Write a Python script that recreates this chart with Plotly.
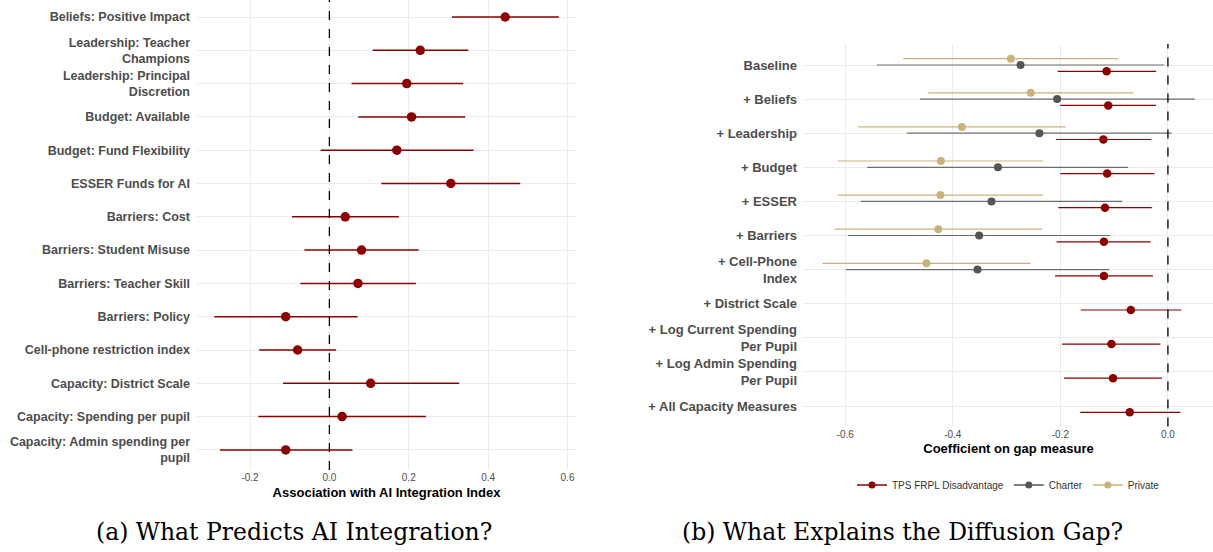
import plotly.graph_objects as go

# ---- Panel (a): predictors of AI integration ----
pred_labels = [
    "Beliefs: Positive Impact",
    "Leadership: Teacher<br>Champions",
    "Leadership: Principal<br>Discretion",
    "Budget: Available",
    "Budget: Fund Flexibility",
    "ESSER Funds for AI",
    "Barriers: Cost",
    "Barriers: Student Misuse",
    "Barriers: Teacher Skill",
    "Barriers: Policy",
    "Cell-phone restriction index",
    "Capacity: District Scale",
    "Capacity: Spending per pupil",
    "Capacity: Admin spending per<br>pupil",
]
pred_est = [0.443, 0.229, 0.195, 0.207, 0.170, 0.306, 0.040,
            0.081, 0.072, -0.110, -0.080, 0.104, 0.032, -0.110]
pred_lo = [0.309, 0.109, 0.056, 0.073, -0.022, 0.131, -0.094,
           -0.063, -0.073, -0.290, -0.177, -0.117, -0.179, -0.276]
pred_hi = [0.578, 0.350, 0.337, 0.342, 0.363, 0.481, 0.175,
           0.225, 0.218, 0.071, 0.017, 0.327, 0.243, 0.058]
pred_ticks = [-0.2, 0.0, 0.2, 0.4, 0.6]
pred_ticktext = ["-0.2", "0.0", "0.2", "0.4", "0.6"]

# ---- Panel (b): gap coefficients across specifications ----
spec_labels = [
    "Baseline", "+ Beliefs", "+ Leadership", "+ Budget", "+ ESSER",
    "+ Barriers", "+ Cell-Phone<br>Index", "+ District Scale",
    "+ Log Current Spending<br>Per Pupil", "+ Log Admin Spending<br>Per Pupil",
    "+ All Capacity Measures",
]
tps_est = [-0.114, -0.111, -0.120, -0.113, -0.117, -0.119, -0.119,
           -0.069, -0.105, -0.102, -0.071]
tps_lo = [-0.205, -0.200, -0.208, -0.200, -0.204, -0.207, -0.210,
          -0.162, -0.197, -0.193, -0.163]
tps_hi = [-0.022, -0.022, -0.031, -0.025, -0.030, -0.032, -0.028,
          0.025, -0.014, -0.011, 0.023]

charter_est = [-0.274, -0.206, -0.239, -0.316, -0.328, -0.351, -0.354]
charter_lo = [-0.541, -0.461, -0.485, -0.559, -0.571, -0.595, -0.599]
charter_hi = [-0.007, 0.050, 0.007, -0.074, -0.085, -0.107, -0.109]

private_est = [-0.292, -0.255, -0.383, -0.422, -0.423, -0.427, -0.449]
private_lo = [-0.492, -0.446, -0.576, -0.614, -0.614, -0.619, -0.642]
private_hi = [-0.092, -0.064, -0.190, -0.232, -0.232, -0.234, -0.255]

gap_ticks = [-0.6, -0.4, -0.2, 0.0]
gap_ticktext = ["-0.6", "-0.4", "-0.2", "0.0"]

series_names = ["TPS FRPL Disadvantage", "Charter", "Private"]

RED = "#8B0000"
GRAY = "#555555"
GRAY_LINE = "#6E6E6E"
TAN = "#C9B27C"
GRID = "#EBEBEB"
LABEL = "#4D4D4D"
series_colors = [RED, GRAY, TAN]

W, H = 1213, 552

fig = go.Figure()


def err(est, lo, hi):
    return dict(type="data", symmetric=False,
                array=[h - e for e, h in zip(est, hi)],
                arrayminus=[e - l for e, l in zip(est, lo)])


# Panel (a)
rows_a = list(range(len(pred_labels)))
fig.add_trace(go.Scatter(
    x=pred_est, y=rows_a, mode="markers",
    marker=dict(color=RED, size=9.5),
    error_x=dict(**err(pred_est, pred_lo, pred_hi), color=RED,
                 thickness=1.5, width=0),
    showlegend=False, xaxis="x", yaxis="y", hoverinfo="skip",
))

# Panel (b): dodged point ranges
rows_b = list(range(len(spec_labels)))
dodge = 0.185
n_sub = len(charter_est)
panel_b = [
    (tps_est, tps_lo, tps_hi, [r + dodge for r in rows_b], RED, RED, 8.5),
    (charter_est, charter_lo, charter_hi, rows_b[:n_sub], GRAY, GRAY_LINE, 8),
    (private_est, private_lo, private_hi, [r - dodge for r in rows_b[:n_sub]], TAN, TAN, 8),
]
for est, lo, hi, ys, mc, lc, sz in panel_b:
    fig.add_trace(go.Scatter(
        x=est, y=ys, mode="markers",
        marker=dict(color=mc, size=sz),
        error_x=dict(**err(est, lo, hi), color=lc, thickness=1.2, width=0),
        showlegend=False, xaxis="x2", yaxis="y2", hoverinfo="skip",
    ))

# Legend entries: short line with a dot, like a point range key
for nm, c in zip(series_names, series_colors):
    fig.add_trace(go.Scatter(
        x=[None], y=[None], mode="lines+markers", name=nm,
        line=dict(color=c, width=1.5), marker=dict(color=c, size=7),
        xaxis="x2", yaxis="y2",
    ))

# Panel geometry (pixels)
a_left, a_right, a_top, a_bottom = 197, 576, 0, 470
b_left, b_right, b_top, b_bottom = 804, 1213, 44, 426.5
row_a = 33.3
row_b = 34.1
a_first = 17
b_first = 65

axis_common = dict(showline=False, zeroline=False, ticks="",
                   gridcolor=GRID, gridwidth=1.2)

cap_font = dict(family="DejaVu Serif, serif", size=23.5, color="black")

fig.update_layout(
    width=W, height=H,
    margin=dict(l=0, r=0, t=0, b=0),
    paper_bgcolor="white", plot_bgcolor="white",
    font=dict(family="Liberation Sans, Arial, sans-serif", color=LABEL),
    xaxis=dict(
        domain=[a_left / W, a_right / W], anchor="y",
        range=[-0.3336, 0.6214], tickvals=pred_ticks, ticktext=pred_ticktext,
        tickfont=dict(size=10, color=LABEL),
        title=dict(text="<b>Association with AI Integration Index</b>",
                   font=dict(size=13, color="black"), standoff=5),
        **axis_common,
    ),
    yaxis=dict(
        domain=[1 - a_bottom / H, 1 - a_top / H], anchor="x",
        range=[(a_bottom - a_first) / row_a, (a_top - a_first) / row_a],
        tickvals=rows_a, ticktext=[f"<b>{t}</b>" for t in pred_labels],
        tickfont=dict(size=12.5, color=LABEL), ticklabelstandoff=6,
        **axis_common,
    ),
    xaxis2=dict(
        domain=[b_left / W, b_right / W], anchor="y2",
        range=[-0.6766, 0.0838], tickvals=gap_ticks, ticktext=gap_ticktext,
        tickfont=dict(size=10, color=LABEL),
        title=dict(text="<b>Coefficient on gap measure</b>",
                   font=dict(size=13, color="black"), standoff=5),
        **axis_common,
    ),
    yaxis2=dict(
        domain=[1 - b_bottom / H, 1 - b_top / H], anchor="x2",
        range=[(b_bottom - b_first) / row_b, (b_top - b_first) / row_b],
        tickvals=rows_b, ticktext=[f"<b>{t}</b>" for t in spec_labels],
        tickfont=dict(size=13, color=LABEL), ticklabelstandoff=6,
        **axis_common,
    ),
    legend=dict(
        orientation="h", x=(b_left + b_right) / 2 / W, xanchor="center",
        y=1 - 485 / H, yanchor="middle",
        font=dict(size=10, color="#333333"), itemwidth=30,
        bgcolor="rgba(0,0,0,0)", tracegroupgap=0,
    ),
    shapes=[
        dict(type="line", xref="x", yref="y domain", x0=0, x1=0, y0=0, y1=1,
             line=dict(color="black", width=1.3, dash="dash"), layer="above"),
        dict(type="line", xref="x2", yref="y2 domain", x0=0, x1=0, y0=0, y1=1,
             line=dict(color="black", width=1.3, dash="dash"), layer="above"),
    ],
    annotations=[
        dict(text="(a) What Predicts AI Integration?", xref="paper", yref="paper",
             x=294 / W, y=1 - 532 / H, xanchor="center", yanchor="middle",
             showarrow=False, font=cap_font),
        dict(text="(b) What Explains the Diffusion Gap?", xref="paper", yref="paper",
             x=902 / W, y=1 - 532 / H, xanchor="center", yanchor="middle",
             showarrow=False, font=cap_font),
    ],
)

fig.write_html("out.html")
